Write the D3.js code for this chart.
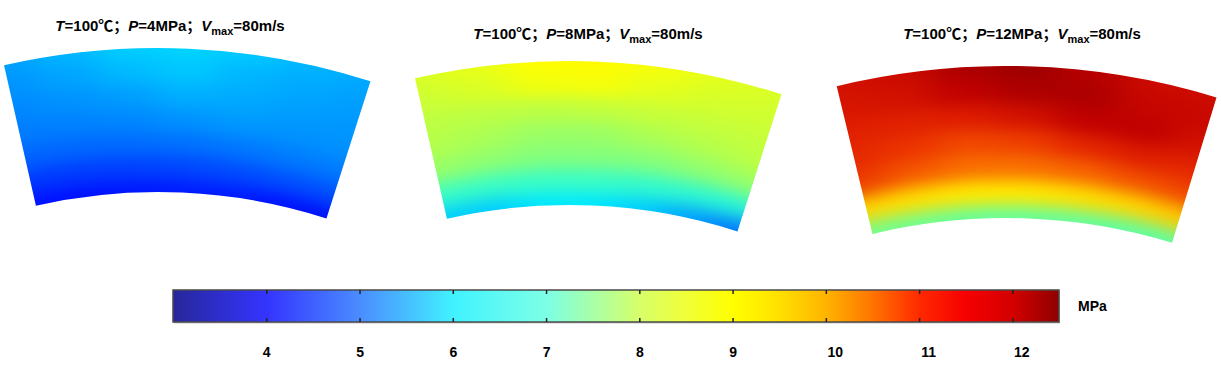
<!DOCTYPE html>
<meta charset="utf-8">
<style>
    body { margin: 0; background: #fff; }
    text { font-family: "Liberation Sans", Arial, "Noto Sans CJK SC", sans-serif; font-weight: bold; fill: #000; }
</style>
<script src="https://d3js.org/d3.v7.min.js"></script>
<body>
<script>

    // pressure (MPa)
    // rows: outer arc -> inner arc, columns: left edge -> right edge
    var field4 = [
        [5.4, 5.6, 5.8, 5.85, 5.75, 5.6, 5.5],
        [5.3, 5.45, 5.65, 5.75, 5.6, 5.5, 5.4],
        [5.2, 5.3, 5.4, 5.55, 5.5, 5.4, 5.35],
        [5.1, 5.15, 5.2, 5.3, 5.35, 5.3, 5.3],
        [4.85, 4.9, 4.95, 5.0, 5.05, 5.1, 5.1],
        [4.4, 4.45, 4.5, 4.55, 4.6, 4.65, 4.65],
        [4.0, 4.0, 4.05, 4.1, 4.1, 4.0, 3.9]
    ]
    var field8 = [
        [8.6, 8.75, 9.0, 9.05, 8.9, 8.7, 8.6],
        [8.45, 8.6, 8.85, 8.9, 8.7, 8.55, 8.5],
        [8.3, 8.3, 8.3, 8.35, 8.4, 8.4, 8.4],
        [8.2, 8.1, 7.95, 7.95, 8.1, 8.2, 8.3],
        [7.9, 7.8, 7.7, 7.7, 7.7, 7.8, 7.9],
        [6.9, 6.9, 6.9, 6.9, 6.8, 6.7, 6.6],
        [5.8, 5.8, 6.0, 6.0, 5.8, 5.4, 5.0]
    ]
    var field12 = [
        [11.7, 11.8, 12.2, 12.35, 12.1, 11.8, 11.8],
        [11.6, 11.7, 12.0, 12.2, 12.2, 11.9, 11.85],
        [11.4, 11.4, 11.5, 11.7, 12.0, 12.0, 11.7],
        [11.2, 11.0, 10.8, 10.9, 11.3, 11.5, 11.3],
        [10.9, 10.6, 10.4, 10.4, 10.5, 10.7, 10.8],
        [9.5, 9.4, 9.3, 9.3, 9.4, 9.5, 9.6],
        [7.5, 7.5, 7.4, 7.4, 7.4, 7.3, 7.3]
    ]

    var inletPressure = ["4", "8", "12"]
    var tickValues = [4, 5, 6, 7, 8, 9, 10, 11, 12]

    // colour map: the legend bar is drawn a bit paler than the contour plots
    var cmapValues = [3, 4, 5, 5.7, 6, 7, 7.5, 8, 8.5, 9, 9.5, 10, 10.5, 11, 11.5, 12, 12.5]
    var barColors = ["#27279a", "#3434ff", "#4a8cff", "#44d2ff", "#40f2ff", "#7cffe6", "#a8ffa8",
        "#d6ff6a", "#f0ff38", "#ffff00", "#ffe000", "#ffb400", "#ff7400", "#ff2a00", "#f60000",
        "#d40000", "#8e0000"]
    var fieldColors = ["#00008f", "#0010ff", "#0070ff", "#00c0ff", "#00e8ff", "#40ffc0", "#70ff90",
        "#a0ff60", "#d0ff30", "#ffff00", "#ffd800", "#ffa000", "#f86400", "#ec3400", "#de1c00",
        "#c00000", "#900000"]

    var width = 1221
    var height = 367

    var svg = d3.select("body")
        .append("svg")
        .attr("width", width)
        .attr("height", height)

    var defs = svg.append("defs")

    var color = d3.scaleLinear()
        .domain(cmapValues)
        .range(fieldColors)
        .clamp(true)

    var blur = defs.append("filter")
        .attr("id", "smooth")
        .attr("x", "-20%").attr("y", "-20%")
        .attr("width", "140%").attr("height", "140%")
        .attr("color-interpolation-filters", "sRGB")
    blur.append("feGaussianBlur")
        .attr("stdDeviation", "18 8")

    var rad = Math.PI / 180

    var panels = [
        { field: field4, cx: 158, cy: 743, rIn: 551, rOut: 695, a0: -12.8, a1: 17.8, tx: 170, ty: 31 },
        { field: field8, cx: 569, cy: 756, rIn: 551, rOut: 695, a0: -12.8, a1: 17.8, tx: 588, ty: 39 },
        { field: field12, cx: 1006, cy: 786, rIn: 568, rOut: 720, a0: -13.6, a1: 17.0, tx: 1022, ty: 39 }
    ]

    panels.forEach(function (p, k) {
        var rows = p.field.length
        var cols = p.field[0].length
        var da = (p.a1 - p.a0) / (cols - 1)
        var dr = (p.rOut - p.rIn) / (rows - 1)
        var pad = 40

        // polar scales for the sample points
        var angle = d3.scaleLinear().domain([0, cols - 1]).range([p.a0 * rad, p.a1 * rad])
        var radius = d3.scaleLinear().domain([0, rows - 1]).range([p.rOut, p.rIn])

        var cells = []
        p.field.forEach(function (row, i) {
            row.forEach(function (v, j) {
                var s = angle(j) - da / 2 * rad
                var e = angle(j) + da / 2 * rad
                if (j == 0) s -= 6 * rad
                if (j == cols - 1) e += 6 * rad
                var ro = radius(i) + dr / 2
                var ri = radius(i) - dr / 2
                if (i == 0) ro += pad
                if (i == rows - 1) ri -= pad
                cells.push({ value: v, startAngle: s, endAngle: e, innerRadius: ri, outerRadius: ro })
            })
        })

        defs.append("clipPath")
            .attr("id", "sector" + k)
            .append("path")
            .attr("transform", "translate(" + p.cx + "," + p.cy + ")")
            .attr("d", d3.arc()({
                innerRadius: p.rIn, outerRadius: p.rOut,
                startAngle: p.a0 * rad, endAngle: p.a1 * rad
            }))

        var g = svg.append("g")
            .attr("clip-path", "url(#sector" + k + ")")
            .append("g")
            .attr("filter", "url(#smooth)")
            .attr("transform", "translate(" + p.cx + "," + p.cy + ")")

        g.selectAll("path")
            .data(cells)
            .enter()
            .append("path")
            .attr("d", d3.arc())
            .attr("fill", function (d) { return color(d.value) })
            .attr("stroke", function (d) { return color(d.value) })
            .attr("stroke-width", 1)

        // title
        var t = svg.append("text")
            .attr("x", p.tx)
            .attr("y", p.ty)
            .attr("text-anchor", "middle")
            .attr("font-size", "15px")
        t.append("tspan").attr("font-style", "italic").text("T")
        t.append("tspan").text("=100℃；")
        t.append("tspan").attr("font-style", "italic").text("P")
        t.append("tspan").text("=" + inletPressure[k] + "MPa；")
        t.append("tspan").attr("font-style", "italic").text("V")
        t.append("tspan").attr("font-size", "11px").attr("dy", 4).text("max")
        t.append("tspan").attr("dy", -4).text("=80m/s")
    })

    // colour bar
    var barX0 = 173, barX1 = 1059, barY = 290, barH = 32
    var x = d3.scaleLinear()
        .domain([3, 12.5])
        .range([barX0, barX1])

    var grad = defs.append("linearGradient")
        .attr("id", "cbar")
        .attr("x1", "0%").attr("x2", "100%")
        .attr("y1", "0%").attr("y2", "0%")
    grad.selectAll("stop")
        .data(cmapValues)
        .enter()
        .append("stop")
        .attr("offset", function (d) { return (d - 3) / 9.5 })
        .attr("stop-color", function (d, i) { return barColors[i] })

    svg.append("rect")
        .attr("x", barX0 + 1)
        .attr("y", barY + 1.5)
        .attr("width", barX1 - barX0)
        .attr("height", barH)
        .attr("fill", "#c8c8c8")

    svg.append("rect")
        .attr("x", barX0)
        .attr("y", barY)
        .attr("width", barX1 - barX0)
        .attr("height", barH)
        .attr("fill", "url(#cbar)")
        .attr("stroke", "#4a4a4a")
        .attr("stroke-width", 1.5)

    var topAxis = svg.append("g")
        .attr("transform", "translate(0," + barY + ")")
        .call(d3.axisTop(x).tickValues(tickValues).tickSize(-4).tickFormat(""))
    topAxis.select(".domain").remove()

    var bottomAxis = svg.append("g")
        .attr("transform", "translate(0," + (barY + barH) + ")")
        .call(d3.axisBottom(x).tickValues(tickValues).tickSize(-4).tickPadding(25))
    bottomAxis.select(".domain").remove()

    svg.selectAll(".tick line")
        .attr("stroke", "#222")
        .attr("stroke-width", 1.5)

    bottomAxis.selectAll(".tick text")
        .attr("font-size", "14px")
        .attr("font-family", null)
        .attr("fill", "#000")
        .attr("dx", function (d) { return d >= 10 ? 9 : 0 })

    svg.append("text")
        .text("MPa")
        .attr("x", 1078)
        .attr("y", 311)
        .attr("font-size", "14px")

</script>
